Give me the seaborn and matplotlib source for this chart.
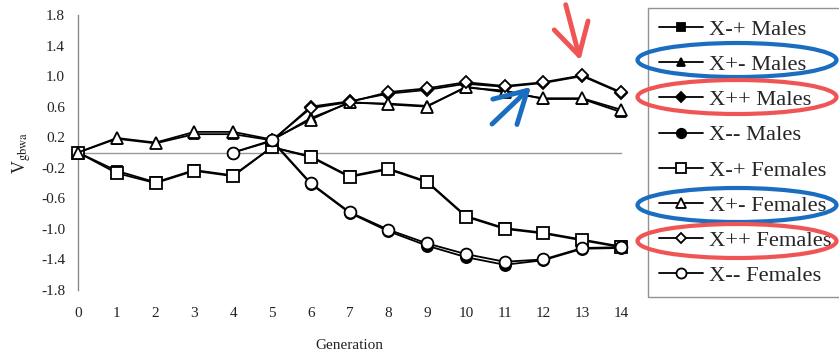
import matplotlib
matplotlib.use("Agg")
import matplotlib.pyplot as plt
from matplotlib.patches import Ellipse
import seaborn as sns

# ---- data ----
gens = list(range(15))
gens_from4 = list(range(4, 15))
gens_from5 = list(range(5, 15))

xmp_males = [0, -0.24, -0.39, -0.23, -0.30, 0.07, -0.05, -0.31, -0.21, -0.38, -0.83, -0.99, -1.05, -1.14, -1.23]
xpm_males = [0, 0.18, 0.12, 0.24, 0.24, 0.16, 0.45, 0.65, 0.64, 0.61, 0.85, 0.81, 0.70, 0.70, 0.53]
xpp_males = [0.15, 0.60, 0.67, 0.77, 0.82, 0.90, 0.86, 0.91, 1.00, 0.78]
xmm_males = [0.0, 0.15, -0.41, -0.79, -1.03, -1.22, -1.37, -1.47, -1.41, -1.26, -1.25]

xmp_females = [0, -0.27, -0.40, -0.24, -0.31, 0.07, -0.06, -0.32, -0.22, -0.39, -0.84, -1.00, -1.06, -1.15, -1.24]
xpm_females = [0, 0.19, 0.13, 0.27, 0.27, 0.17, 0.43, 0.66, 0.63, 0.60, 0.86, 0.79, 0.71, 0.71, 0.56]
xpp_females = [0.16, 0.58, 0.66, 0.79, 0.84, 0.92, 0.87, 0.92, 1.01, 0.79]
xmm_females = [0.0, 0.16, -0.40, -0.78, -1.01, -1.19, -1.33, -1.43, -1.40, -1.25, -1.24]

labels = ["X-+ Males", "X+- Males", "X++ Males", "X-- Males",
          "X-+ Females", "X+- Females", "X++ Females", "X-- Females"]
yticks = [-1.8, -1.4, -1.0, -0.6, -0.2, 0.2, 0.6, 1.0, 1.4, 1.8]

# ---- style ----
sns.set_style("white")
plt.rcParams["font.family"] = ["Liberation Serif", "DejaVu Serif"]
plt.rcParams["mathtext.fontset"] = "stix"

W, H = 839, 353
fig = plt.figure(figsize=(W / 100, H / 100), dpi=100)
ax = fig.add_axes([78 / W, 1 - 290 / H, (621 - 78) / W, 275 / H])

series = [
    (gens, xmp_males, "s", "black", 7.5, labels[0]),
    (gens, xpm_males, "^", "black", 7.5, labels[1]),
    (gens_from5, xpp_males, "D", "black", 6, labels[2]),
    (gens_from4, xmm_males, "o", "black", 8, labels[3]),
    (gens, xmp_females, "s", "white", 9, labels[4]),
    (gens, xpm_females, "^", "white", 8.5, labels[5]),
    (gens_from5, xpp_females, "D", "white", 6.5, labels[6]),
    (gens_from4, xmm_females, "o", "white", 8.5, labels[7]),
]
handles = []
for x, y, m, fc, ms, lab in series:
    sns.lineplot(x=x, y=y, ax=ax, color="black", lw=1.3, marker=m,
                 markersize=ms, markerfacecolor=fc, markeredgecolor="black",
                 markeredgewidth=1.3, label=lab, legend=False, clip_on=False,
                 zorder=3)
    handles.append(ax.lines[-1])

ax.set_xlim(0, 14)
ax.set_ylim(-1.8, 1.8)
ax.set_yticks(yticks)
ax.set_yticklabels([f"{v:.1f}" for v in yticks])
ax.set_xticks(gens)

for s in ["top", "right"]:
    ax.spines[s].set_visible(False)
ax.spines["left"].set_color("#8a8a8a")
ax.spines["left"].set_linewidth(1.0)
ax.spines["bottom"].set_position(("data", 0))
ax.spines["bottom"].set_color("#9a9a9a")
ax.spines["bottom"].set_linewidth(1.0)
ax.tick_params(axis="x", labelbottom=False, direction="out", length=4, width=1, color="#9a9a9a")
ax.tick_params(axis="y", direction="out", length=4.3, width=1, color="#8a8a8a",
               pad=5, labelsize=11, labelcolor="#222222")
ax.set_ylabel(r"V$_{\mathrm{gbwa}}$", fontsize=13, labelpad=6, color="#222222")

sec = ax.secondary_xaxis("bottom")
sec.set_xticks(gens)
sec.spines["bottom"].set_visible(False)
sec.tick_params(length=0, pad=12, labelsize=11, labelcolor="#222222")
sec.set_xlabel("Generation", fontsize=11, labelpad=14, color="#222222")
ax.set_xlabel("")

leg = fig.legend(handles, labels, loc="upper left",
                 bbox_to_anchor=(648 / W, 1 - 8 / H), borderaxespad=0,
                 fontsize=16.2, frameon=True, fancybox=False, edgecolor="#777777",
                 handlelength=1.95, handletextpad=0.25, labelspacing=0.64,
                 borderpad=0.5, markerscale=0.85)
leg.get_frame().set_linewidth(1.0)

# ---- annotations (ellipses around legend rows, arrows) ----
for cy, col in [(60, "#1a6dbf"), (97, "#f05555"), (205, "#1a6dbf"), (241, "#f05555")]:
    e = Ellipse((737 / W, 1 - cy / H), 199 / W, 34 / H, transform=fig.transFigure,
                fill=False, edgecolor=col, lw=3, zorder=10)
    fig.add_artist(e)

ax.annotate("", xy=(581, H - 63), xycoords="figure pixels",
            xytext=(565, H - 2), textcoords="figure pixels",
            arrowprops=dict(arrowstyle="->,head_length=0.8,head_width=0.45",
                            mutation_scale=28, color="#f05555", lw=3.5),
            annotation_clip=False)
ax.annotate("", xy=(533, H - 85), xycoords="figure pixels",
            xytext=(490, H - 126), textcoords="figure pixels",
            arrowprops=dict(arrowstyle="->,head_length=0.8,head_width=0.45",
                            mutation_scale=28, color="#1a6dbf", lw=3.5),
            annotation_clip=False)

fig.savefig("out.png", dpi=100)
